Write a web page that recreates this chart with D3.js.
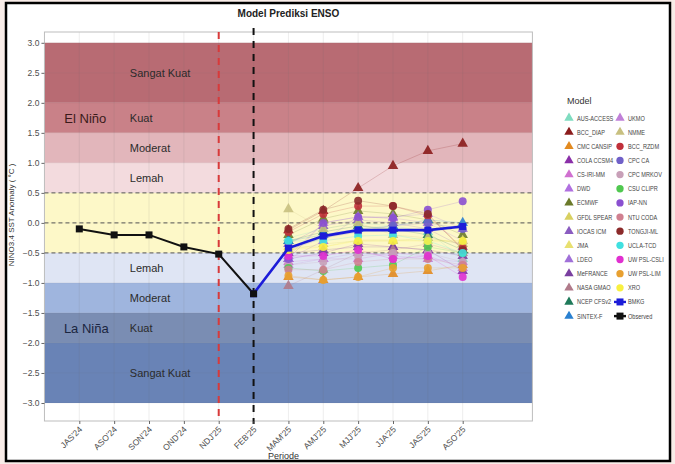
<!DOCTYPE html>
<html>
<head>
<meta charset="utf-8">
<script src="https://cdn.jsdelivr.net/npm/d3@7"></script>
<style>
  body { margin: 0; background: #f8ece8; }
  svg { display: block; font-family: "Liberation Sans", Arial, sans-serif; }
</style>
</head>
<body>
<svg id="enso_chart"></svg>
<script>
// periods on the x axis
const periods = ["JAS'24", "ASO'24", "SON'24", "OND'24", "NDJ'25", "FEB'25",
    "MAM'25", "AMJ'25", "MJJ'25", "JJA'25", "JAS'25", "ASO'25"];
const obsPeriods = periods.slice(0, 6);
const observed = [-0.1, -0.2, -0.2, -0.4, -0.52, -1.18];
const bmkgPeriods = periods.slice(5);
const bmkg = [-1.18, -0.42, -0.22, -0.12, -0.12, -0.12, -0.06];
const fcPeriods = periods.slice(6);

// intensity categories
const bandLo = [2.0, 1.5, 1.0, 0.5, -0.5, -1.0, -1.5, -2.0, -3.0];
const bandHi = [3.0, 2.0, 1.5, 1.0, 0.5, -0.5, -1.0, -1.5, -2.0];
const bandLabels = ["Sangat Kuat", "Kuat", "Moderat", "Lemah", "", "Lemah", "Moderat", "Kuat", "Sangat Kuat"];
const bandColors = ["#b86b73", "#c98188", "#e2b6bb", "#f3dbde", "#fdf8c8", "#dfe5f4", "#9fb5de", "#7a8db3", "#6983b6"];
const yTicks = d3.range(-3, 3.01, 0.5);

// model forecasts MAM..ASO
const models = ["AUS-ACCESS", "BCC_DIAP", "CMC CANSIP", "COLA CCSM4", "CS-IRI-MM", "DWD", "ECMWF",
    "GFDL SPEAR", "IOCAS ICM", "JMA", "LDEO", "MeFRANCE", "NASA GMAO", "NCEP CFSv2", "SINTEX-F",
    "UKMO", "NMME", "BCC_RZDM", "CPC CA", "CPC MRKOV", "CSU CLIPR", "IAP-NN", "NTU CODA",
    "TONGJI-ML", "UCLA-TCD", "UW PSL-CSLI", "UW PSL-LIM", "XRO"];
const modelValues = [
    [-0.25, -0.1, 0.0, -0.05, -0.15, -0.6],
    [-0.12, 0.2, 0.58, 0.95, 1.2, 1.32],
    [-0.9, -0.95, -0.9, -0.85, -0.8, -0.7],
    [-0.6, -0.5, -0.35, -0.4, -0.45, -0.8],
    [-0.65, -0.6, -0.6, -0.5, -0.55, -0.75],
    [-0.55, 0.0, 0.1, 0.08, 0.0, -0.3],
    [-0.2, 0.07, 0.2, 0.15, 0.05, -0.2],
    [-0.45, -0.35, -0.3, -0.3, -0.25, -0.35],
    [-0.35, -0.05, 0.05, 0.0, -0.1, -0.4],
    [-0.4, -0.4, -0.28, -0.28, -0.3, -0.3],
    [-0.6, -0.3, 0.1, 0.1, 0.15, -0.1],
    [-0.5, -0.45, -0.4, -0.4, -0.45, -0.55],
    [-1.05, -0.78, -0.5, -0.45, -0.35, -0.5],
    [-0.3, -0.15, -0.05, -0.1, -0.2, -0.45],
    [-0.3, -0.2, -0.1, -0.05, 0.05, 0.0],
    [-0.7, -0.6, -0.5, -0.55, -0.6, -0.65],
    [0.23, -0.1, 0.0, -0.2, -0.25, -0.35],
    [-0.15, 0.15, 0.28, 0.28, 0.12, -0.42],
    [-0.45, -0.25, -0.15, -0.05, 0.0, -0.1],
    [-0.7, -0.65, -0.55, -0.5, -0.5, -0.65],
    [-0.75, -0.8, -0.75, -0.7, -0.4, -0.5],
    [-0.6, 0.0, 0.1, 0.08, 0.22, 0.36],
    [-0.78, -0.78, -0.65, -0.6, -0.6, -0.7],
    [-0.1, 0.22, 0.37, 0.28, 0.15, -0.45],
    [-0.3, -0.3, -0.22, -0.2, -0.3, -0.5],
    [-0.55, -0.55, -0.45, -0.6, -0.55, -0.9],
    [-0.88, -0.95, -0.9, -0.75, -0.75, -0.75],
    [-0.45, -0.4, -0.3, -0.3, -0.3, -0.3]
];
const modelColors = ["#7fdcc0", "#8b1c1c", "#e28a20", "#8a2fa8", "#d070d0", "#b070e0", "#6b7a2a",
    "#d8d060", "#8a5cc0", "#e8e070", "#a070d8", "#7a3fa0", "#b07a8a", "#1f7a5a", "#2a80d0",
    "#c080d8", "#c8c080", "#c0303a", "#7060c8", "#c8a0b8", "#50c850", "#8a50d0", "#d08090",
    "#8b2a2a", "#40e0e0", "#e030d0", "#e8a030", "#f8f040"];
const modelShapes = models.map((m, i) => i < 17 ? "triangle" : "circle");

const svg_width = 675, svg_height = 464;
const svg = d3.select("#enso_chart")
    .attr("width", svg_width)
    .attr("height", svg_height);

// framed white card
svg.append("rect")
    .attr("x", 6).attr("y", 3)
    .attr("width", 664).attr("height", 458)
    .attr("fill", "white")
    .attr("stroke", "black")
    .attr("stroke-width", 2.5);

const x = d3.scalePoint().domain(periods).range([79.3, 462.7]);
const step = x.step();
const pLeft = x(periods[0]) - step, pRight = x(periods[periods.length - 1]) + 2 * step;
const pTop = 32, pBottom = 421;
const y = d3.scaleLinear().domain([-3.3, 3.18]).range([pBottom, pTop]);

// panel
svg.append("rect")
    .attr("x", pLeft).attr("y", pTop)
    .attr("width", pRight - pLeft).attr("height", pBottom - pTop)
    .attr("fill", "white");

svg.selectAll(".band")
    .data(bandLo)
    .join("rect")
    .attr("class", "band")
    .attr("x", pLeft)
    .attr("width", pRight - pLeft)
    .attr("y", (d, i) => y(bandHi[i]))
    .attr("height", (d, i) => y(d) - y(bandHi[i]))
    .attr("fill", (d, i) => bandColors[i]);

// grid
svg.selectAll(".vgrid")
    .data(periods)
    .join("line")
    .attr("x1", d => x(d)).attr("x2", d => x(d))
    .attr("y1", pTop).attr("y2", pBottom)
    .attr("stroke", "rgba(110,110,110,0.12)")
    .attr("stroke-width", 1);
svg.selectAll(".hgrid")
    .data(yTicks)
    .join("line")
    .attr("x1", pLeft).attr("x2", pRight)
    .attr("y1", d => y(d)).attr("y2", d => y(d))
    .attr("stroke", "rgba(110,110,110,0.08)");

svg.append("rect")
    .attr("x", pLeft).attr("y", pTop)
    .attr("width", pRight - pLeft).attr("height", pBottom - pTop)
    .attr("fill", "none")
    .attr("stroke", "#bdbdbd");

// band labels
const labelX = x(periods[1]) + 0.45 * step;
svg.selectAll(".bandlabel")
    .data(bandLabels)
    .join("text")
    .attr("x", labelX)
    .attr("y", (d, i) => y((bandLo[i] + bandHi[i]) / 2) + 4)
    .attr("font-size", 11)
    .attr("fill", "#2b2b2b")
    .text(d => d);

svg.append("text")
    .attr("x", x(periods[0]) + 6).attr("y", y(1.75) + 5)
    .attr("text-anchor", "middle").attr("font-size", 13).attr("fill", "#3a1a1a")
    .text("El Niño");
svg.append("text")
    .attr("x", x(periods[0]) + 7).attr("y", y(-1.75) + 5)
    .attr("text-anchor", "middle").attr("font-size", 13).attr("fill", "#1a2540")
    .text("La Niña");

// threshold lines
svg.selectAll(".thresh")
    .data([0.5, 0, -0.5])
    .join("line")
    .attr("x1", pLeft).attr("x2", pRight)
    .attr("y1", d => y(d)).attr("y2", d => y(d))
    .attr("stroke", "#555")
    .attr("stroke-width", 1)
    .attr("stroke-dasharray", "4,3");

svg.append("line")
    .attr("x1", x("NDJ'25")).attr("x2", x("NDJ'25"))
    .attr("y1", pTop).attr("y2", pBottom)
    .attr("stroke", "#d83a3a").attr("stroke-width", 2)
    .attr("stroke-dasharray", "7,6");
svg.append("line")
    .attr("x1", x("FEB'25")).attr("x2", x("FEB'25"))
    .attr("y1", pTop - 4).attr("y2", pBottom + 3)
    .attr("stroke", "#111").attr("stroke-width", 2)
    .attr("stroke-dasharray", "7,6");

// axes
const yAxis = svg.append("g")
    .attr("transform", `translate(${pLeft},0)`)
    .call(d3.axisLeft(y).tickValues(yTicks).tickFormat(d3.format(".1f")).tickSize(3).tickPadding(2));
yAxis.select(".domain").remove();
yAxis.selectAll("text").attr("font-size", 8.5).attr("fill", "#4d4d4d");
yAxis.selectAll("line").attr("stroke", "#666");

const xAxis = svg.append("g")
    .attr("transform", `translate(0,${pBottom})`)
    .call(d3.axisBottom(x).tickSize(3));
xAxis.select(".domain").remove();
xAxis.selectAll("line").attr("stroke", "#666");
xAxis.selectAll("text")
    .attr("font-size", 8.5)
    .attr("fill", "#4d4d4d")
    .attr("text-anchor", "end")
    .attr("x", 0).attr("y", 0).attr("dy", 0)
    .attr("transform", "translate(3,9) rotate(-45)");

svg.append("text")
    .attr("x", (pLeft + pRight) / 2 - 5).attr("y", 459)
    .attr("text-anchor", "middle").attr("font-size", 9).attr("fill", "#333")
    .text("Periode");
svg.append("text")
    .attr("transform", `translate(14,${y(0) - 8}) rotate(-90)`)
    .attr("text-anchor", "middle").attr("font-size", 8).attr("fill", "#333")
    .text("NINO3.4 SST Anomaly ( °C )");
svg.append("text")
    .attr("x", (pLeft + pRight) / 2).attr("y", 17)
    .attr("text-anchor", "middle").attr("font-size", 10).attr("font-weight", "bold")
    .attr("fill", "#222")
    .text("Model Prediksi ENSO");

// model lines and points
const modelLine = d3.line()
    .x((d, i) => x(fcPeriods[i]))
    .y(d => y(d));
svg.selectAll(".mline")
    .data(modelValues)
    .join("path")
    .attr("d", modelLine)
    .attr("fill", "none")
    .attr("stroke", (d, i) => modelColors[i])
    .attr("stroke-opacity", 0.25)
    .attr("stroke-width", 0.8);

const triangle = d3.symbol().type(d3.symbolTriangle).size(48);
const circle = d3.symbol().type(d3.symbolCircle).size(50);
modelValues.forEach((vals, m) => {
    svg.selectAll(null)
        .data(vals)
        .join("path")
        .attr("transform", (d, i) => `translate(${x(fcPeriods[i])},${y(d)})`)
        .attr("d", modelShapes[m] === "triangle" ? triangle() : circle())
        .attr("fill", modelColors[m])
        .attr("fill-opacity", 0.9);
});

// observed and BMKG
const obsLine = d3.line().x((d, i) => x(obsPeriods[i])).y(d => y(d));
svg.append("path").datum(observed).attr("d", obsLine)
    .attr("fill", "none").attr("stroke", "#111").attr("stroke-width", 2);
const bmkgLine = d3.line().x((d, i) => x(bmkgPeriods[i])).y(d => y(d));
svg.append("path").datum(bmkg).attr("d", bmkgLine)
    .attr("fill", "none").attr("stroke", "#1c1cd8").attr("stroke-width", 2.6);
svg.selectAll(".bmkgpt").data(bmkg).join("rect")
    .attr("x", (d, i) => x(bmkgPeriods[i]) - 3.5).attr("y", d => y(d) - 3.5)
    .attr("width", 7).attr("height", 7).attr("fill", "#1c1cd8");
svg.selectAll(".obspt").data(observed).join("rect")
    .attr("x", (d, i) => x(obsPeriods[i]) - 3.5).attr("y", d => y(d) - 3.5)
    .attr("width", 7).attr("height", 7).attr("fill", "#111");

// legend
const legendNames = models.concat(["BMKG", "Observed"]);
const legend = svg.append("g").attr("transform", "translate(567,0)");
legend.append("text").attr("x", 0).attr("y", 104)
    .attr("font-size", 9).attr("fill", "#333").text("Model");
const rows = 15, rowH = 14.15, colW = 51;
const legendSymTri = d3.symbol().type(d3.symbolTriangle).size(38);
const legendSymCirc = d3.symbol().type(d3.symbolCircle).size(42);
legendNames.forEach((name, i) => {
    const col = Math.floor(i / rows), row = i % rows;
    const g = legend.append("g")
        .attr("transform", `translate(${col * colW + 2},${118 + row * rowH})`);
    if (i < models.length) {
        g.append("path")
            .attr("d", modelShapes[i] === "triangle" ? legendSymTri() : legendSymCirc())
            .attr("fill", modelColors[i]);
    } else {
        const c = name === "BMKG" ? "#1c1cd8" : "#111";
        g.append("line").attr("x1", -6).attr("x2", 6)
            .attr("stroke", c).attr("stroke-width", 2.4);
        g.append("rect").attr("x", -3.5).attr("y", -3.5)
            .attr("width", 7).attr("height", 7).attr("fill", c);
    }
    g.append("text")
        .attr("transform", "translate(8,2.5) scale(0.8,1)")
        .attr("font-size", 7).attr("fill", "#444").text(name);
});
</script>
</body>
</html>
